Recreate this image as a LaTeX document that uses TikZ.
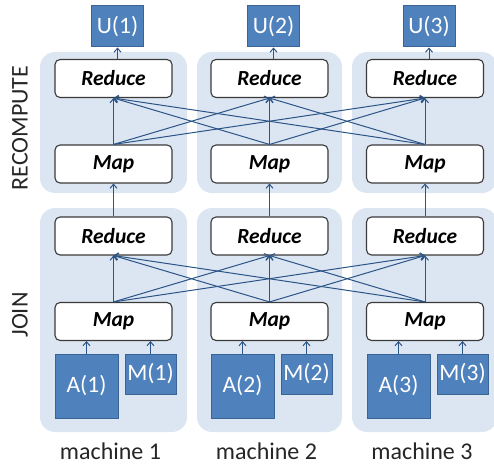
\documentclass[tikz,border=0pt]{standalone}
\usepackage{fontspec}
\setmainfont{Carlito}
\usetikzlibrary{arrows.meta}
\definecolor{panelc}{HTML}{DCE6F2}
\definecolor{bluebox}{HTML}{4F81BD}
\definecolor{blueedge}{HTML}{3A6496}
\definecolor{linec}{HTML}{2B5487}
\definecolor{boxedge}{HTML}{3A3A3A}
\begin{document}
\begin{tikzpicture}[x=1pt,y=-1pt,
  panel/.style={fill=panelc,draw=none,rounded corners=15pt},
  opbox/.style={draw=boxedge,fill=white,line width=1.1pt,rounded corners=5pt,
    minimum width=117pt,minimum height=38pt,inner sep=0pt,
    font=\fontsize{21.5}{23}\selectfont\bfseries\itshape},
  datbox/.style={draw=blueedge,fill=bluebox,line width=1pt,text=white,inner sep=0pt,
    font=\fontsize{23.5}{25}\selectfont},
  conn/.style={draw=linec,line width=1pt,-{Straight Barb[length=4pt,width=7pt]}},
  lbl/.style={font=\fontsize{24}{26}\selectfont,text=black!85,inner sep=0pt}
]
\useasboundingbox (0,0) rectangle (494,465);
% panels
\foreach \i/\xl/\xr in {1/40/187,2/197/342,3/352/497}{
  \path[panel] (\xl,52) rectangle (\xr,193);
  \path[panel] (\xl,208) rectangle (\xr,432);
}
% columns
\foreach \i/\cx/\ax/\mx in {1/113.5/86.5/150.5,2/269.5/242.5/306.5,3/425/398.5/462.5}{
  \node[datbox,minimum width=52pt,minimum height=41pt] (U\i) at (\cx+4,26.5) {U(\i)};
  \node[opbox] (RR\i) at (\cx,78.5) {Reduce};
  \node[opbox] (RM\i) at (\cx,164) {Map};
  \node[opbox] (JR\i) at (\cx,236) {Reduce};
  \node[opbox] (JM\i) at (\cx,321.5) {Map};
  \node[datbox,minimum width=63pt,minimum height=64pt] (A\i) at (\ax,386) {A(\i)};
  \node[datbox,minimum width=51pt,minimum height=40pt] (M\i) at (\mx,374) {M(\i)};
  \node[lbl] (mach\i) at (\cx-3,451) {machine \i};
}
\node[lbl,rotate=90] (rec) at (20,128) {RECOMPUTE};
\node[lbl,rotate=90] (join) at (20,315) {JOIN};
% connectors
\foreach \i in {1,2,3}{
  \draw[conn] (A\i.north) -- (A\i.north |- JM\i.south);
  \draw[conn] (M\i.north) -- (M\i.north |- JM\i.south);
  \draw[conn] (JR\i.north) -- (RM\i.south);
  \draw[conn] ([xshift=4pt]RR\i.north) -- (U\i.south);
  \foreach \j in {1,2,3}{
    \draw[conn] (JM\i.north) -- (JR\j.south);
    \draw[conn] (RM\i.north) -- (RR\j.south);
  }
}
\end{tikzpicture}
\end{document}
